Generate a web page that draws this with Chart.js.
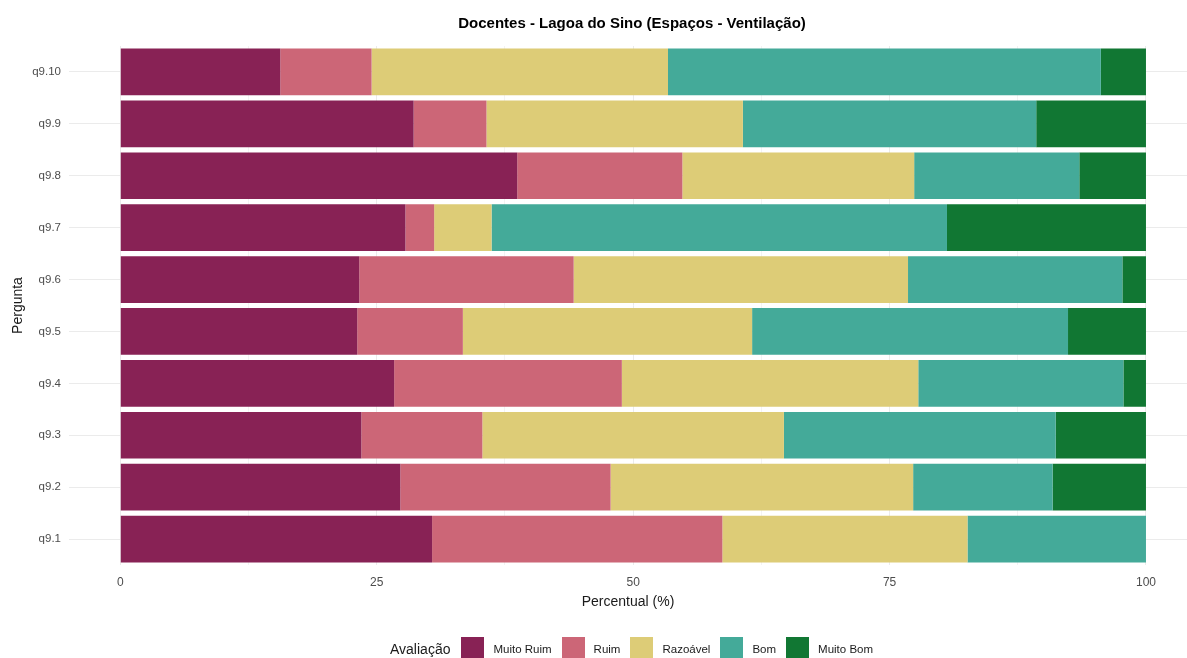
<!DOCTYPE html>
<html>
<head>
<meta charset="utf-8">
<script src="https://cdn.jsdelivr.net/npm/chart.js@4.4.1/dist/chart.umd.min.js"></script>
<style>
  body { margin: 0; background: #fff; font-family: "Liberation Sans", Arial, sans-serif; overflow: hidden; }
  #wrap { position: relative; width: 1187px; height: 658px; overflow: hidden; }
  #legend { position: absolute; left: 390px; top: 637px; display: flex; align-items: center; height: 23px; }
  #legend .title { font-size: 14px; color: #1a1a1a; margin-right: 11px; }
  #legend .box { width: 23px; height: 23px; margin-right: 9px; }
  #legend .lab { font-size: 11.5px; color: #1a1a1a; margin-right: 10px; }
</style>
</head>
<body>
<div id="wrap">
  <canvas id="chart" width="1197" height="658"></canvas>
  <div id="legend"></div>
</div>
<script>
const perguntas = ["q9.10", "q9.9", "q9.8", "q9.7", "q9.6", "q9.5", "q9.4", "q9.3", "q9.2", "q9.1"];
const avaliacoes = ["Muito Ruim", "Ruim", "Razoável", "Bom", "Muito Bom"];
const cores = ["#882255", "#CC6677", "#DDCC77", "#44AA99", "#117733"];

// percentual por pergunta (mesma ordem de perguntas)
const muitoRuim = [15.6, 28.6, 38.7, 27.8, 23.3, 23.1, 26.7, 23.5, 27.3, 30.4];
const ruim      = [8.9, 7.1, 16.1, 2.8, 20.9, 10.3, 22.2, 11.8, 20.5, 28.3];
const razoavel  = [28.9, 25.0, 22.6, 5.6, 32.6, 28.2, 28.9, 29.4, 29.5, 23.9];
const bom       = [42.2, 28.6, 16.1, 44.4, 20.9, 30.8, 20.0, 26.5, 13.6, 17.4];
const muitoBom  = [4.4, 10.7, 6.5, 19.4, 2.3, 7.6, 2.2, 8.8, 9.1, 0];

const xTicks = [0, 25, 50, 75, 100];

const series = [muitoRuim, ruim, razoavel, bom, muitoBom];

const titlePlugin = {
  id: "plotTitle",
  afterDraw(chart) {
    const ctx = chart.ctx;
    ctx.save();
    ctx.font = "bold 15px 'Liberation Sans', Arial, sans-serif";
    ctx.fillStyle = "#000";
    ctx.textAlign = "center";
    ctx.textBaseline = "middle";
    ctx.fillText("Docentes - Lagoa do Sino (Espaços - Ventilação)", 632, 24);
    ctx.restore();
  }
};

const chart = new Chart(document.getElementById("chart"), {
  type: "bar",
  data: {
    labels: perguntas,
    datasets: avaliacoes.map((a, i) => ({
      label: a,
      data: series[i],
      backgroundColor: cores[i],
      borderWidth: 0,
      barPercentage: 0.9,
      categoryPercentage: 1.0,
    })),
  },
  options: {
    indexAxis: "y",
    responsive: false,
    animation: false,
    layout: { padding: { top: 46, right: 0, bottom: 45, left: 0 } },
    plugins: {
      legend: { display: false },
      tooltip: { enabled: false },
    },
    scales: {
      x: {
        stacked: true,
        min: -5,
        max: 104,
        afterFit: (s) => { s.height = 48; },
        ticks: {
          stepSize: 12.5,
          autoSkip: false,
          maxRotation: 0,
          padding: 10,
          color: "#4d4d4d",
          font: { family: "'Liberation Sans', Arial, sans-serif", size: 12 },
          callback: (v) => (xTicks.includes(v) ? String(v) : ""),
        },
        grid: {
          drawTicks: false,
          color: (c) => {
            const v = c.tick && c.tick.value;
            if (xTicks.includes(v)) return "#ebebeb";
            if (v === -5 || v === 104) return "rgba(0,0,0,0)";
            return "#f3f3f3";
          },
        },
        border: { display: false },
        title: {
          display: true,
          text: "Percentual (%)",
          color: "#1a1a1a",
          padding: { top: 0, bottom: 2 },
          font: { family: "'Liberation Sans', Arial, sans-serif", size: 14 },
        },
      },
      y: {
        stacked: true,
        afterFit: (s) => { s.width = 69; },
        ticks: {
          padding: 8,
          color: "#4d4d4d",
          font: { family: "'Liberation Sans', Arial, sans-serif", size: 11.5 },
        },
        grid: { offset: false, drawTicks: false, color: "#ebebeb" },
        border: { display: false },
        title: {
          display: true,
          text: "Pergunta",
          color: "#1a1a1a",
          padding: { top: 10, bottom: 0 },
          font: { family: "'Liberation Sans', Arial, sans-serif", size: 14 },
        },
      },
    },
  },
  plugins: [titlePlugin],
});

// legenda
const legend = document.getElementById("legend");
const t = document.createElement("span");
t.className = "title";
t.textContent = "Avaliação";
legend.appendChild(t);
chart.data.datasets.forEach((ds) => {
  const b = document.createElement("span");
  b.className = "box";
  b.style.background = ds.backgroundColor;
  legend.appendChild(b);
  const l = document.createElement("span");
  l.className = "lab";
  l.textContent = ds.label;
  legend.appendChild(l);
});
</script>
</body>
</html>
